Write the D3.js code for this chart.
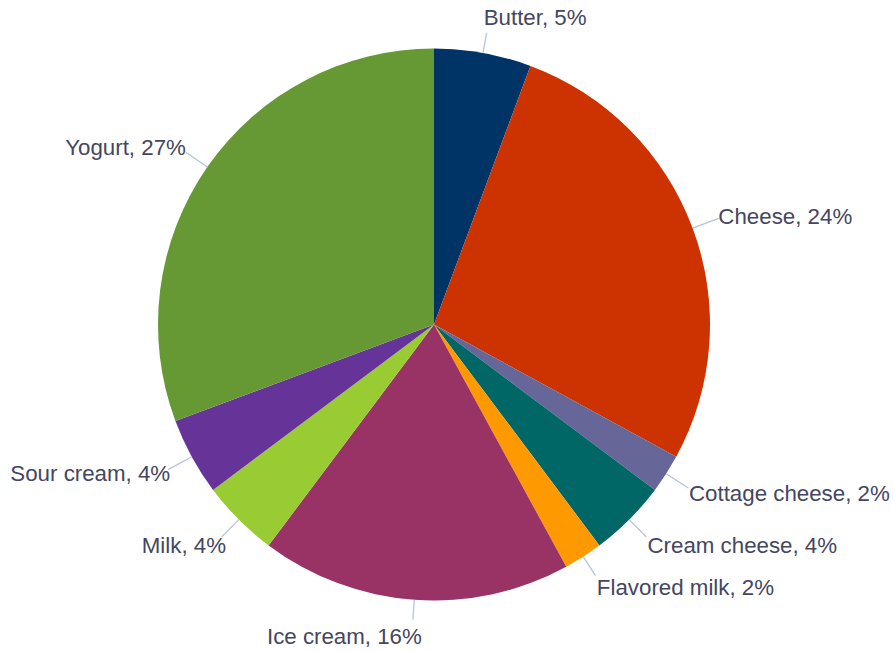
<!DOCTYPE html>
<html>
<head>
<meta charset="utf-8">
<script src="https://cdn.jsdelivr.net/npm/d3@7"></script>
<style>
  html, body { margin: 0; padding: 0; background: #ffffff; }
  svg { display: block; }
</style>
</head>
<body>
<svg id="chart" width="893" height="651"></svg>
<script>
// Dairy product shares, clockwise from 12 o'clock
const categories = ["Butter", "Cheese", "Cottage cheese", "Cream cheese", "Flavored milk",
                    "Ice cream", "Milk", "Sour cream", "Yogurt"];
const values = [5, 24, 2, 4, 2, 16, 4, 4, 27];
const sliceColors = ["#003366", "#cc3300", "#666699", "#006666", "#ff9900",
                     "#993366", "#99cc33", "#663399", "#669933"];

const width = 893, height = 651;
const cx = 434, cy = 324.5, radius = 276;

const svg = d3.select("#chart");
const g = svg.append("g").attr("transform", `translate(${cx},${cy})`);

const pie = d3.pie().sort(null).value(d => d.value);
const arc = d3.arc().innerRadius(0).outerRadius(radius);

const data = categories.map((name, i) => ({ name, value: values[i], color: sliceColors[i] }));
const arcs = pie(data);

g.selectAll("path.slice")
  .data(arcs)
  .join("path")
  .attr("class", "slice")
  .attr("d", arc)
  .attr("fill", d => d.data.color);

// Outside labels with short radial leader lines
const labels = g.selectAll("g.label")
  .data(arcs)
  .join("g")
  .attr("class", "label");

function geom(d) {
  const a = (d.startAngle + d.endAngle) / 2;
  const s = Math.sin(a), c = Math.cos(a);
  const len = 20 + 9 * s * s;
  const ex = radius * s, ey = -radius * c;
  const px = (radius + len) * s, py = -(radius + len) * c;
  return { s, c, ex, ey, px, py };
}

// Horizontal nudge of the label relative to the leader line end
function labelX(o) {
  if (o.s >= 0) return o.px + (o.c > 0 ? -3 * o.c * o.c : 2 * o.c * o.c);
  return o.px + (o.c < 0 ? 9 * o.c * o.c : 0);
}

labels.append("line")
  .attr("x1", d => geom(d).ex)
  .attr("y1", d => geom(d).ey)
  .attr("x2", d => geom(d).px)
  .attr("y2", d => geom(d).py)
  .attr("stroke", "#b4c4da")
  .attr("stroke-width", 1.3);

labels.append("text")
  .attr("x", d => labelX(geom(d)))
  .attr("y", d => { const o = geom(d); return o.py - 16 * o.c * Math.abs(o.c); })
  .attr("dy", "0.36em")
  .attr("text-anchor", d => geom(d).s >= 0 ? "start" : "end")
  .attr("font-family", "'Liberation Sans', Arial, sans-serif")
  .attr("font-size", "22.3px")
  .attr("fill", "#454660")
  .text(d => `${d.data.name}, ${d.data.value}%`);
</script>
</body>
</html>
